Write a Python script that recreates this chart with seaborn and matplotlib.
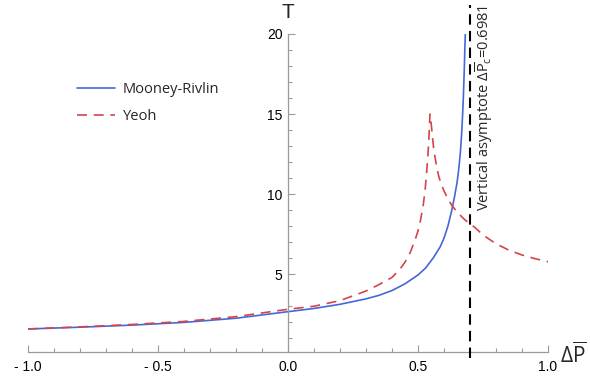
import matplotlib
matplotlib.use("Agg")
import matplotlib.pyplot as plt
import matplotlib.transforms as mtransforms
from matplotlib.ticker import FixedLocator, MultipleLocator
import pandas as pd
import seaborn as sns

# Tension T against the pressure increment for the two hyperelastic models
mr_dp = [-1.0, -0.8, -0.6, -0.4, -0.2, 0.0, 0.1, 0.2, 0.3, 0.35, 0.4, 0.45,
         0.5, 0.53, 0.56, 0.585, 0.6, 0.615, 0.63, 0.64, 0.65, 0.657, 0.663,
         0.668, 0.672, 0.675, 0.678, 0.68, 0.682]
mr_t = [1.58, 1.69, 1.82, 1.99, 2.25, 2.66, 2.86, 3.12, 3.46, 3.68, 3.98, 4.40,
        4.95, 5.40, 6.05, 6.70, 7.25, 8.00, 9.00, 9.80, 10.7, 11.6, 12.6,
        13.8, 15.1, 16.3, 17.8, 19.0, 20.0]

yeoh_dp = [-1.0, -0.8, -0.6, -0.4, -0.2, 0.0, 0.1, 0.2, 0.3, 0.35, 0.4, 0.43,
           0.45, 0.47, 0.49, 0.5, 0.51, 0.52, 0.527, 0.533, 0.538, 0.542, 0.546,
           0.549, 0.552, 0.556, 0.56, 0.565, 0.572, 0.58, 0.59, 0.6, 0.615,
           0.63, 0.645, 0.66, 0.68, 0.7, 0.72, 0.75, 0.8, 0.85, 0.9, 0.95, 1.0]
yeoh_t = [1.58, 1.71, 1.86, 2.05, 2.35, 2.81, 3.00, 3.35, 3.95, 4.35, 4.80, 5.30,
          5.75, 6.35, 7.20, 7.70, 8.40, 9.30, 10.2, 11.3, 12.4, 13.5, 15.0,
          14.7, 14.2, 13.5, 12.9, 12.35, 11.7, 11.1, 10.6, 10.2, 9.70,
          9.30, 9.00, 8.72, 8.40, 8.15, 7.90, 7.45, 6.90, 6.50, 6.20, 5.97, 5.78]

dp_critical = 0.6981
x_ticks = [-1.0, -0.5, 0.0, 0.5, 1.0]
x_tick_labels = ["- 1.0", "- 0.5", "0.0", "0.5", "1.0"]
y_ticks = [5, 10, 15, 20]
series_names = ["Mooney-Rivlin", "Yeoh"]

sns.set_style("white")
plt.rcParams["font.family"] = ["Liberation Sans", "DejaVu Sans"]
plt.rcParams["mathtext.fontset"] = "custom"
plt.rcParams["mathtext.rm"] = "Open Sans"
plt.rcParams["mathtext.it"] = "Open Sans"

mr_df = pd.DataFrame({"dP": mr_dp, "T": mr_t})
yeoh_df = pd.DataFrame({"dP": yeoh_dp, "T": yeoh_t})

fig = plt.figure(figsize=(5.9, 3.85), dpi=100)
ax = fig.add_axes([28 / 590, 1 - 351.7 / 385, 520 / 590, (351.7 - 34) / 385])

sns.lineplot(data=mr_df, x="dP", y="T", ax=ax, color="#4468d8", linewidth=1.2,
             label=series_names[0], sort=False, estimator=None)
sns.lineplot(data=yeoh_df, x="dP", y="T", ax=ax, color="#d6434a", linewidth=1.2,
             linestyle=(0, (6, 4)), label=series_names[1], sort=False, estimator=None)

# asymptote of the Mooney-Rivlin branch
ax.plot([dp_critical, dp_critical], [-0.25, 21.8], color="black", linewidth=1.5,
        linestyle=(0, (5, 3)), clip_on=False, zorder=3)

ax.set_xlim(-1.0, 1.0)
ax.set_ylim(0.16, 20)

axis_gray = "#9a9a9a"
for side in ("top", "right"):
    ax.spines[side].set_visible(False)
ax.spines["left"].set_position(("data", 0))
for side in ("left", "bottom"):
    ax.spines[side].set_color(axis_gray)
    ax.spines[side].set_linewidth(0.9)

ax.xaxis.set_major_locator(FixedLocator(x_ticks))
ax.xaxis.set_minor_locator(MultipleLocator(0.1))
ax.set_xticklabels(x_tick_labels)
ax.yaxis.set_major_locator(FixedLocator(y_ticks))
ax.yaxis.set_minor_locator(MultipleLocator(1))
ax.tick_params(which="both", direction="in", color=axis_gray, width=0.8,
               labelsize=10, labelcolor="black")
ax.tick_params(which="major", length=5)
ax.tick_params(which="minor", length=3)
ax.tick_params(axis="x", which="both", bottom=True, pad=6)
ax.tick_params(axis="y", which="both", left=True, pad=4)
ax.set_xlabel("")
ax.set_ylabel("")

blend = mtransforms.blended_transform_factory(ax.transData, ax.transAxes)
ax.text(0, 1.069, "T", transform=blend, ha="center", va="center", fontsize=15)
ax.text(1.023, -11 / 317.7, r"$\Delta\overline{\mathrm{P}}$", transform=ax.transAxes,
        ha="left", va="baseline", fontsize=15)

ax.text(0.755, 21.8, r"Vertical asymptote $\Delta\overline{\mathrm{P}}_{\mathrm{c}}$=0.6981",
        rotation=90, ha="center", va="top", fontsize=10.5, family="Open Sans")

ax.legend(loc="upper left", bbox_to_anchor=(77 / 590, 1 - 82 / 385),
          bbox_transform=fig.transFigure, frameon=False, handlelength=2.6,
          handletextpad=0.55, labelspacing=0.85, borderpad=0, borderaxespad=0,
          prop={"family": "Open Sans", "size": 10.5})

fig.savefig("out.png", dpi=100)
